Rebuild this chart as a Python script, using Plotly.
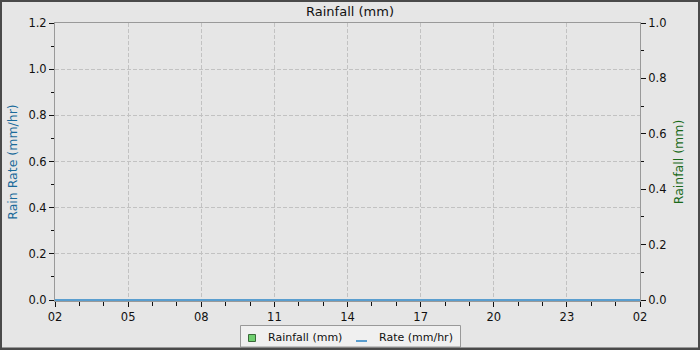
import plotly.graph_objects as go

times = ["2024-01-01 02:00", "2024-01-01 03:00", "2024-01-01 04:00", "2024-01-01 05:00",
         "2024-01-01 06:00", "2024-01-01 07:00", "2024-01-01 08:00", "2024-01-01 09:00",
         "2024-01-01 10:00", "2024-01-01 11:00", "2024-01-01 12:00", "2024-01-01 13:00",
         "2024-01-01 14:00", "2024-01-01 15:00", "2024-01-01 16:00", "2024-01-01 17:00",
         "2024-01-01 18:00", "2024-01-01 19:00", "2024-01-01 20:00", "2024-01-01 21:00",
         "2024-01-01 22:00", "2024-01-01 23:00", "2024-01-02 00:00", "2024-01-02 01:00",
         "2024-01-02 02:00"]
rainfall_mm = [0] * 25
rate_mm_hr = [0] * 25

title_text = "Rainfall (mm)"
left_title = "Rain Rate (mm/hr)"
right_title = "Rainfall (mm)"
legend_names = ["Rainfall (mm)", "Rate (mm/hr)"]

BG = "#e6e6e6"
FONT = "DejaVu Sans"
GREEN = "#6fcf6f"
BLUE = "#5a9ecf"

L, R, T, B = 55, 60, 23, 49
W, H = 700, 350
pw, ph = W - L - R, H - T - B
# one pixel of headroom below zero so the zero-rate line is fully visible
y_lo = -1.2 / (ph - 1)
y2_lo = -1.0 / (ph - 1)

fig = go.Figure()
fig.add_trace(go.Bar(x=times, y=rainfall_mm, name=legend_names[0], yaxis="y2",
                     marker=dict(color=GREEN, line=dict(width=0))))
fig.add_trace(go.Scatter(x=times, y=rate_mm_hr, name=legend_names[1], mode="lines",
                         line=dict(color=BLUE, width=2), yaxis="y"))


def px(x):
    return (x - L) / pw


def py(y):
    return (H - B - y) / ph


fig.update_layout(
    width=W, height=H,
    margin=dict(l=L, r=R, t=T, b=B, pad=0, autoexpand=False),
    paper_bgcolor=BG, plot_bgcolor=BG,
    font=dict(family=FONT, size=11, color="#111111"),
    title=dict(text=title_text, x=0.5, xanchor="center", y=1 - 11 / H, yanchor="middle",
               font=dict(family=FONT, size=13, color="#111111")),
    showlegend=False,
    xaxis=dict(
        type="date", range=[times[0], times[-1]], automargin=False,
        tickformat="%H", dtick=3 * 3600000, tick0=times[0],
        ticks="outside", ticklen=5, tickcolor="#111111", tickwidth=1,
        tickfont=dict(size=11.5),
        minor=dict(dtick=3600000, ticks="outside", ticklen=4, tickcolor="#111111", showgrid=False),
        showgrid=True, gridcolor="#c2c2c2", griddash="4px,2px", gridwidth=1,
        showline=True, linecolor="#999999", linewidth=1, mirror=True,
        zeroline=False, fixedrange=True, layer="below traces",
    ),
    yaxis=dict(
        range=[y_lo, 1.2], dtick=0.2, tick0=0, tickformat=".1f", automargin=False,
        ticks="outside", ticklen=5, tickcolor="#111111", tickfont=dict(size=11.5),
        minor=dict(dtick=0.1, tick0=0, ticks="outside", ticklen=3, tickcolor="#111111", showgrid=False),
        showgrid=True, gridcolor="#c2c2c2", griddash="4px,2px", gridwidth=1,
        showline=True, linecolor="#999999", linewidth=1,
        zeroline=False, layer="below traces",
        title=dict(text=left_title, font=dict(family=FONT, size=12.5, color="#1a6a9a"), standoff=8),
    ),
    yaxis2=dict(
        range=[y2_lo, 1.0], dtick=0.2, tick0=0, tickformat=".1f", automargin=False,
        overlaying="y", side="right", tickfont=dict(size=11.5),
        ticks="outside", ticklen=5, tickcolor="#111111",
        minor=dict(dtick=0.1, tick0=0, ticks="outside", ticklen=3, tickcolor="#111111", showgrid=False),
        showgrid=False, showline=True, linecolor="#999999", linewidth=1,
        zeroline=False, layer="below traces",
        title=dict(text=right_title, font=dict(family=FONT, size=12.5, color="#1a6a1a"), standoff=8),
    ),
)

# legend box (drawn manually to match compact style)
fig.add_shape(type="rect", xref="paper", yref="paper",
              x0=px(240.5), x1=px(460.5), y0=py(347), y1=py(325.5),
              line=dict(color="#999999", width=1), fillcolor="#f0f0f0", layer="above")
fig.add_shape(type="rect", xref="paper", yref="paper",
              x0=px(248.5), x1=px(255.5), y0=py(341.5), y1=py(334.5),
              line=dict(color="#3a6a3a", width=1), fillcolor=GREEN, layer="above")
fig.add_shape(type="line", xref="paper", yref="paper",
              x0=px(356), x1=px(367), y0=py(341), y1=py(341),
              line=dict(color=BLUE, width=2), layer="above")
fig.add_annotation(text=legend_names[0], xref="paper", yref="paper", x=px(266), y=py(337),
                   xanchor="left", yanchor="middle", showarrow=False,
                   font=dict(family=FONT, size=11, color="#111111"))
fig.add_annotation(text=legend_names[1], xref="paper", yref="paper", x=px(377), y=py(337),
                   xanchor="left", yanchor="middle", showarrow=False,
                   font=dict(family=FONT, size=11, color="#111111"))

# outer border
fig.add_shape(type="rect", xref="paper", yref="paper",
              x0=px(1), x1=px(699), y0=py(348.5), y1=py(1),
              line=dict(color="#4a4a4a", width=2), fillcolor="rgba(0,0,0,0)", layer="above")
fig.add_shape(type="line", xref="paper", yref="paper",
              x0=px(0), x1=px(700), y0=py(349.5), y1=py(349.5),
              line=dict(color="#4a4a4a", width=2), layer="above")

fig.write_html("out.html")
